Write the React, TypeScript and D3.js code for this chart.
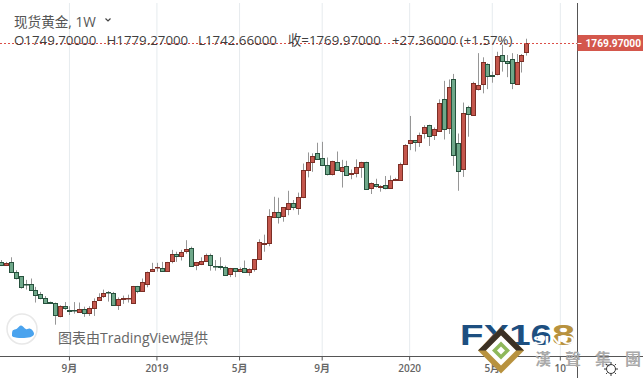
import React from "react";
import * as d3 from "d3";

const opens = [1296,1288,1295,1274,1265,1248,1249,1236,1226,1218,1209,1206,1179,1200,1192,1191,1188,1195,1186,1197,1212,1221,1230,1229,1202,1216,1217,1208,1244,1233,1249,1276,1283,1283,1276,1298,1314,1310,1318,1325,1288,1291,1297,1310,1288,1288,1286,1271,1282,1276,1282,1273,1280,1301,1333,1336,1395,1405,1395,1411,1423,1414,1436,1495,1511,1531,1521,1505,1485,1513,1494,1504,1486,1489,1501,1513,1455,1464,1458,1462,1455,1473,1475,1509,1552,1559,1554,1574,1592,1569,1580,1648,1587,1693,1554,1496,1631,1613,1672,1680,1724,1701,1701,1745,1731,1735,1682,1729,1749.7];
const closes = [1290,1293,1274,1260,1241,1247,1235,1226,1218,1208,1206,1179,1200,1195,1190,1190,1195,1186,1197,1212,1219,1228,1229,1203,1216,1218,1218,1244,1234,1252,1275,1281,1284,1276,1296,1314,1310,1318,1323,1286,1295,1297,1310,1288,1287,1286,1269,1283,1275,1280,1273,1280,1302,1338,1336,1395,1405,1395,1414,1423,1414,1437,1495,1512,1525,1518,1505,1485,1514,1495,1502,1485,1488,1501,1512,1455,1466,1459,1460,1455,1473,1475,1509,1550,1559,1555,1570,1588,1569,1583,1641,1584,1675,1528,1494,1618,1615,1683,1680,1728,1698,1699,1741,1732,1727,1684,1729,1743,1769.97];
const highs = [1300,1296,1306,1278,1265,1257,1260,1242,1231,1222,1210,1208,1202,1209,1200,1209,1208,1199,1200,1217,1228,1236,1233,1231,1219,1223,1225,1244,1244,1260,1275,1294,1294,1296,1296,1322,1318,1322,1343,1329,1296,1306,1314,1314,1300,1306,1288,1283,1282,1284,1299,1282,1302,1345,1355,1410,1437,1435,1414,1450,1430,1446,1509,1533,1531,1554,1556,1522,1515,1535,1517,1515,1496,1518,1513,1513,1468,1476,1462,1482,1483,1478,1511,1551,1612,1560,1576,1592,1593,1587,1648,1688,1691,1703,1574,1641,1634,1686,1748,1739,1726,1708,1751,1766,1744,1748,1746,1746,1779.27];
const lows = [1287,1287,1273,1258,1238,1236,1234,1208,1215,1206,1205,1160,1176,1192,1181,1184,1186,1177,1179,1179,1212,1218,1210,1202,1192,1205,1208,1207,1228,1231,1241,1275,1275,1275,1275,1293,1296,1299,1314,1286,1278,1289,1296,1277,1277,1279,1268,1263,1263,1275,1273,1266,1275,1300,1318,1330,1394,1379,1383,1397,1408,1398,1434,1479,1491,1517,1504,1483,1483,1494,1457,1483,1475,1479,1478,1455,1443,1457,1448,1453,1455,1471,1475,1509,1538,1535,1545,1563,1547,1560,1579,1561,1573,1504,1450,1480,1567,1612,1667,1661,1670,1684,1700,1708,1696,1670,1681,1706,1742.66];

const weekDates = d3.utcMonday.every(1)!.range(new Date(Date.UTC(2018, 4, 28)), new Date(Date.UTC(2020, 5, 23)));
const axisTicks: [string, string][] = [
  ["2018-09-03", "9月"],
  ["2019-01-07", "2019"],
  ["2019-05-06", "5月"],
  ["2019-09-02", "9月"],
  ["2020-01-06", "2020"],
  ["2020-05-04", "5月"],
  ["2020-08-10", "10"],
];
const lastPrice = 1769.97;
const headerTitle = "现货黄金, 1W";
const ohlcLabels: [string, number][] = [
  ["O1749.70000", 14],
  ["H1779.27000", 106.5],
  ["L1742.66000", 198],
  ["收=1769.97000", 288],
  ["+27.36000 (+1.57%)", 392],
];

const W = 643, H = 378;
const axisX = 577.5, axisY = 356.5;
const UI_FONT = "'Open Sans', 'Noto Sans CJK SC', sans-serif";

export default function App() {
  const x = d3.scaleUtc()
    .domain([weekDates[0], weekDates[weekDates.length - 1]])
    .range([1.4, 526.3]);
  const y = d3.scaleLinear().domain([1769.97, 1160]).range([43, 324.7]);
  const red = "#c4564c", redEdge = "#7b2f26", green = "#6fa88a", greenEdge = "#27513d";
  const diamond = (cx: number, cy: number, r: number) =>
    `M${cx},${cy - r}L${cx + r},${cy}L${cx},${cy + r}L${cx - r},${cy}Z`;
  const cloud = d3.line().curve(d3.curveBasis)([[12,336],[12,329],[17,330],[21,323],[26,331],[30,327],[35,333],[33,338],[14,338],[12,336]]) as string;
  const sun = d3.range(8).map(i => (i * Math.PI) / 4);

  return (
    <svg width={W} height={H} style={{ position: "absolute", left: 0, top: 0, background: "#fff" }}>
      {axisTicks.map(([d, l], i) => {
        const tx = x(new Date(d + "T00:00:00Z"));
        return (
          <g key={i}>
            <line x1={tx} x2={tx} y1={3} y2={axisY} stroke="#e6ebee" />
            <line x1={tx} x2={tx} y1={axisY} y2={axisY + 4} stroke="#555" />
            <text x={tx} y={372} textAnchor="middle" fontFamily={UI_FONT} fontSize={10} fontWeight={600} fill="#666">{l}</text>
          </g>
        );
      })}

      {weekDates.map((d, i) => {
        const up = closes[i] >= opens[i];
        const px = Math.round(x(d)) + 0.5;
        const top = y(Math.max(opens[i], closes[i]));
        const bot = y(Math.min(opens[i], closes[i]));
        return (
          <g key={i}>
            <line x1={px} x2={px} y1={y(highs[i])} y2={y(lows[i])} stroke="#969696" />
            <rect x={px - 2} y={Math.round(top) + 0.5} width={4} height={Math.max(0.5, Math.round(bot - top))}
              fill={up ? red : green} stroke={up ? redEdge : greenEdge} strokeWidth={1} />
          </g>
        );
      })}

      <line x1={0} x2={axisX} y1={y(lastPrice) + 0.5} y2={y(lastPrice) + 0.5} stroke="#dc4f48" strokeDasharray="2 2" />
      <line x1={axisX} x2={axisX} y1={3} y2={H} stroke="#555" />
      <line x1={0} x2={W} y1={axisY} y2={axisY} stroke="#555" />

      <rect x={axisX} y={35} width={W - axisX} height={16} fill="#d4574c" />
      <line x1={axisX} x2={axisX + 4} y1={43.5} y2={43.5} stroke="#fff" />
      <text x={585.5} y={47} fontFamily="Roboto, sans-serif" fontSize={10.2} fontWeight={700} fill="#fff">1769.97000</text>

      <text x={14} y={26.5} fontFamily={UI_FONT} fontSize={13.6} fill="#555">{headerTitle}</text>
      <path d="M105.5,18.5l2.5,2.5l2.5,-2.5" fill="none" stroke="#444" strokeWidth={1.2} />
      {ohlcLabels.map(([t, lx], i) => (
        <text key={i} x={lx} y={45} fontFamily={UI_FONT} fontSize={13.3} fill="#3f3f3f">{t}</text>
      ))}

      <circle cx={22} cy={329} r={15} fill="#fff" stroke="#e8e8e8" strokeWidth={1.5} />
      <path d={cloud} fill="#4aa3ee" />
      <text x={58} y={343} fontFamily={UI_FONT} fontSize={14} fill="#666">图表由TradingView提供</text>

      <text x={460} y={345} fontFamily="'Liberation Sans', sans-serif" fontSize={30} fontWeight={700} fill="#1d4f80" textLength={92} lengthAdjust="spacingAndGlyphs">FX16</text>
      <text x={552} y={345} fontFamily="'Liberation Sans', sans-serif" fontSize={30} fontWeight={700} fill="#b8923e" textLength={23} lengthAdjust="spacingAndGlyphs">8</text>
      <text x={533} y={344} fontFamily="'Liberation Sans', sans-serif" fontSize={11} fontWeight={700} fill="#fff" textLength={42} lengthAdjust="spacingAndGlyphs">SINO</text>
      <path d={diamond(501, 350.5, 23)} fill="#b8923e" />
      <path d="M478,350.5L501,327.5L524,350.5L516,350.5L501,335.5L486,350.5Z" fill="#3b3024" />
      <path d={diamond(501, 350.5, 15)} fill="#fff" />
      <path d={diamond(501, 350.5, 9)} fill="#8fb85a" />
      <path d={diamond(501, 350.5, 4)} fill="#fff" />
      <text x={535} y={365} fontFamily="'Noto Sans CJK TC', sans-serif" fontSize={16} fontWeight={700} fill="#a9a9a9" textLength={106}>漢 聲 集 團</text>

      <circle cx={611} cy={369} r={4.5} fill="none" stroke="#333" />
      {sun.map((a, i) => (
        <line key={i} x1={611 + 5 * Math.cos(a)} y1={369 + 5 * Math.sin(a)} x2={611 + 7 * Math.cos(a)} y2={369 + 7 * Math.sin(a)} stroke="#333" />
      ))}
    </svg>
  );
}
